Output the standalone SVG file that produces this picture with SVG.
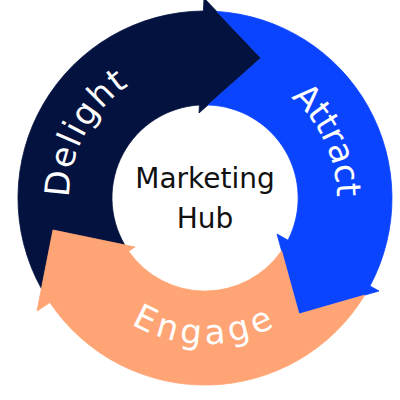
<svg xmlns="http://www.w3.org/2000/svg" xmlns:xlink="http://www.w3.org/1999/xlink" width="400" height="400" viewBox="0 0 400 400">
  <style>
    .seg { stroke-width: 0.8; stroke-linejoin: round; }
    .lbl { font-family: "DejaVu Sans", "Liberation Sans", sans-serif; font-size: 34px; fill: #ffffff; }
    .hub { font-family: "DejaVu Sans", "Liberation Sans", sans-serif; font-size: 28px; fill: #111111; text-anchor: middle; }
  </style>
  <defs>
    <path id="pDelight" d="M 78.9 248.9 A 136 136 0 0 1 176.7 65.0"/>
    <path id="pAttract" d="M 239.2 70.5 A 132 132 0 0 1 324.6 253.8"/>
    <path id="pEngage" d="M 91.5 289.9 A 146 146 0 0 0 315.2 293.8"/>
  </defs>
  <rect width="400" height="400" fill="#ffffff"/>
  <g id="delight">
    <path class="seg" fill="#04123f" stroke="#04123f" d="M 41.4 288.6 A 187 187 0 0 1 203.4 11.0 L 204 -2 L 261 58 L 199 113 L 199.4 105.0 A 93 93 0 0 0 124.75 244.9 L 53 230 Z"/>
    <text class="lbl"><textPath xlink:href="#pDelight" startOffset="50%" text-anchor="middle" textLength="132" lengthAdjust="spacing">Delight</textPath></text>
  </g>
  <g id="attract">
    <path class="seg" fill="#0b44ff" stroke="#0b44ff" d="M 216.7 11.4 A 187 187 0 0 1 370.0 286.0 L 379 291 L 299 314 L 277 234 L 288.0 240.2 A 93 93 0 0 0 208.0 105.0 L 261 58 Z"/>
    <text class="lbl"><textPath xlink:href="#pAttract" startOffset="50%" text-anchor="middle" textLength="113" lengthAdjust="spacing">Attract</textPath></text>
  </g>
  <g id="engage">
    <path class="seg" fill="#ffa474" stroke="#ffa474" d="M 364.8 295.1 A 187 187 0 0 1 49.9 302.6 L 37 311 L 53 230 L 135 247 L 128.6 251.2 A 93 93 0 0 0 281.6 250.8 L 299 314 Z"/>
    <text class="lbl"><textPath xlink:href="#pEngage" startOffset="50%" text-anchor="middle" textLength="150" lengthAdjust="spacing">Engage</textPath></text>
  </g>
  <g id="hub">
    <text class="hub" x="205" y="188">Marketing</text>
    <text class="hub" x="205" y="228">Hub</text>
  </g>
</svg>
